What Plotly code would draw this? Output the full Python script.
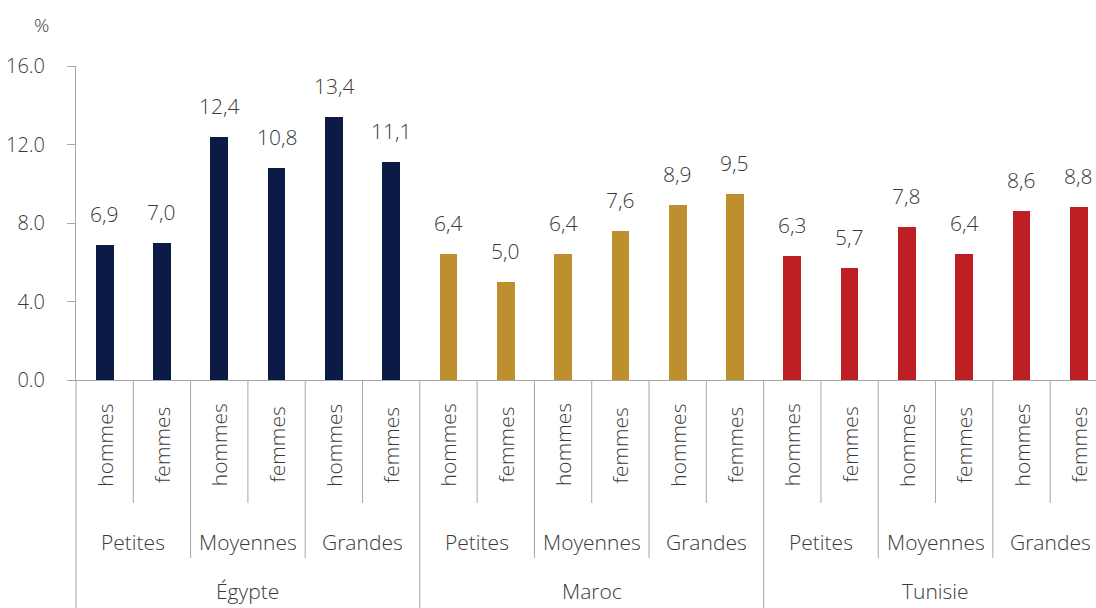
import plotly.graph_objects as go

# Data
countries = ["Égypte", "Maroc", "Tunisie"]
sizes = ["Petites", "Moyennes", "Grandes"]
sexes = ["hommes", "femmes"]
country_colors = ["#0B1B45", "#BD8F2E", "#BE1F25"]

egypte = [6.9, 7.0, 12.4, 10.8, 13.4, 11.1]
maroc = [6.4, 5.0, 6.4, 7.6, 8.9, 9.5]
tunisie = [6.3, 5.7, 7.8, 6.4, 8.6, 8.8]
series = [egypte, maroc, tunisie]

y_ticks = [0, 4, 8, 12, 16]

TEXT = "#3a3a3a"
GRID = "#a6a6a6"
FONT = "Open Sans"
WEIGHT = 300
FS = 21

# Geometry of the plotting region (pixels)
W, H = 1096, 608
M_L, M_R, M_T, M_B = 76, 0, 66, 228
X0, X1 = -0.5, 17.3
plot_w = W - M_L - M_R
plot_h = H - M_T - M_B


def xpaper(xv):
    return (xv - X0) / (X1 - X0)


def ypaper(py):
    # pixel row -> paper fraction
    return (H - M_B - py) / plot_h


def tfont(size):
    return dict(family=FONT, size=size, color=TEXT, weight=WEIGHT)


fig = go.Figure()

idx = 0
for c, vals in enumerate(series):
    xs = list(range(idx, idx + len(vals)))
    fig.add_trace(go.Bar(
        x=xs, y=vals, width=0.31,
        marker=dict(color=country_colors[c], line=dict(width=0)),
        name=countries[c], showlegend=False, hoverinfo="skip",
    ))
    for x, v in zip(xs, vals):
        fig.add_annotation(
            x=x, y=v, xref="x", yref="y", text=f"{v:.1f}".replace(".", ","),
            showarrow=False, xanchor="center", yanchor="bottom", yshift=15,
            font=tfont(FS),
        )
    idx += len(vals)

shapes = []
annotations = []
n = 0
for c, country in enumerate(countries):
    start = n
    for s, size in enumerate(sizes):
        sstart = n
        for sx in sexes:
            annotations.append(dict(
                x=n, y=ypaper(445), xref="x", yref="paper", text=sx,
                textangle=-90, showarrow=False,
                xanchor="center", yanchor="middle", font=tfont(FS),
            ))
            if n != sstart:
                shapes.append(dict(type="line", xref="paper", yref="paper",
                                   x0=xpaper(n - 0.5), x1=xpaper(n - 0.5),
                                   y0=ypaper(380), y1=ypaper(503),
                                   line=dict(color=GRID, width=1)))
            n += 1
        annotations.append(dict(
            x=(sstart + n - 1) / 2, y=ypaper(542), xref="x", yref="paper",
            text=size, showarrow=False,
            xanchor="center", yanchor="middle", font=tfont(FS),
        ))
        if sstart != start:
            shapes.append(dict(type="line", xref="paper", yref="paper",
                               x0=xpaper(sstart - 0.5), x1=xpaper(sstart - 0.5),
                               y0=ypaper(380), y1=ypaper(558),
                               line=dict(color=GRID, width=1)))
    annotations.append(dict(
        x=(start + n - 1) / 2, y=ypaper(591), xref="x", yref="paper",
        text=country, showarrow=False,
        xanchor="center", yanchor="middle", font=tfont(FS),
    ))
    shapes.append(dict(type="line", xref="paper", yref="paper",
                       x0=xpaper(start - 0.5), x1=xpaper(start - 0.5),
                       y0=ypaper(380), y1=ypaper(H + 2),
                       line=dict(color=GRID, width=1)))

# '%' unit label in the top-left margin
annotations.append(dict(
    xref="paper", yref="paper", x=(41 - M_L) / plot_w, y=ypaper(25),
    text="%", showarrow=False, xanchor="center", yanchor="middle",
    font=tfont(19),
))

for a in annotations:
    fig.add_annotation(**a)
for s in shapes:
    fig.add_shape(**s)

fig.update_layout(
    width=W, height=H,
    margin=dict(l=M_L, r=M_R, t=M_T, b=M_B),
    paper_bgcolor="white", plot_bgcolor="white",
    bargap=0,
    font=dict(family=FONT, color=TEXT),
)
fig.update_xaxes(
    range=[X0, X1], showticklabels=False, ticks="", showgrid=False,
    zeroline=False, showline=True, linecolor=GRID, linewidth=1,
)
fig.update_yaxes(
    range=[0, 16], tickvals=y_ticks, ticktext=[f"{t:.1f}" for t in y_ticks],
    ticks="outside", ticklen=8, tickcolor=GRID, showgrid=False,
    zeroline=False, showline=True, linecolor=GRID, linewidth=1,
    tickfont=tfont(20), ticklabelstandoff=18,
)

fig.write_html("out.html", config={"displayModeBar": False})
